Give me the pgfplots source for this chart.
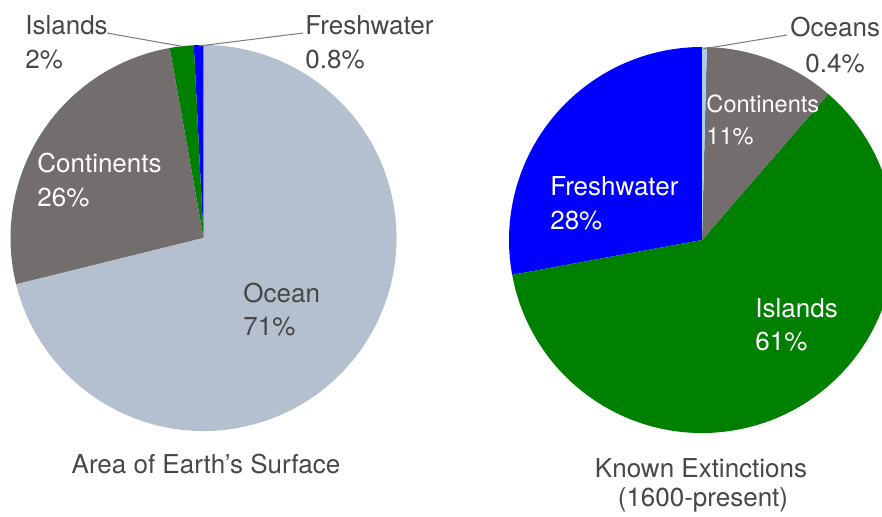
\documentclass[border=0pt]{standalone}
\usepackage{pgfplots}
\pgfplotsset{compat=1.18}
\usepackage{fontspec}
\setmainfont{TeX Gyre Heros}

\definecolor{oceangray}{HTML}{B4C0CF}
\definecolor{contgray}{HTML}{736E6D}
\definecolor{islegreen}{HTML}{008000}
\definecolor{freshblue}{HTML}{0000FF}
\definecolor{oceanlight}{HTML}{AACCEE}
\definecolor{txt}{HTML}{474747}
\definecolor{leader}{HTML}{7A7A7A}

% slices counterclockwise from #1 degrees, list of value/colour
\newcommand\pie[2]{%
  \gdef\total{0}%
  \foreach \v/\c in {#2}{\pgfmathsetmacro\t{\total+\v}\xdef\total{\t}}%
  \xdef\start{#1}%
  \foreach \v/\c in {#2}{%
    \pgfmathsetmacro\stop{\start+(\v/\total)*360}%
    \edef\temp{\noexpand\fill[\c] (axis cs:0,0) -- ++(\start:96.5pt)
      arc[start angle=\start, end angle=\stop, radius=96.5pt] -- cycle;}%
    \temp
    \xdef\start{\stop}}}

\pgfplotsset{piestyle/.style={
  hide axis, scale only axis, width=193pt, height=193pt,
  xmin=-1, xmax=1, ymin=-1, ymax=1, clip=false, anchor=center}}

\tikzset{lab/.style={anchor=base west, inner sep=0pt, font=\fontsize{13}{16}\selectfont},
  ttl/.style={anchor=base, inner sep=0pt, font=\fontsize{13}{16}\selectfont, text=txt}}

\begin{document}
\begin{tikzpicture}
\path[use as bounding box] (0,0) rectangle (441pt,258pt);

% Area of Earth's surface (percent)
\begin{axis}[piestyle, at={(101.75pt,139pt)}]
\pie{90}{0.8/freshblue, 2/islegreen, 26/contgray, 71/oceangray}
\draw[leader, line width=0.5pt] (axis cs:-0.50,1.062) -- (axis cs:-0.106,0.992);
\draw[leader, line width=0.5pt] (axis cs:-0.023,0.995) -- (axis cs:0.516,1.062);
\node[lab, text=txt] at (axis cs:-0.925,1.057) {Islands};
\node[lab, text=txt] at (axis cs:-0.925,0.876) {2\%};
\node[lab, text=txt] at (axis cs:0.526,1.057) {Freshwater};
\node[lab, text=txt] at (axis cs:0.526,0.876) {0.8\%};
\node[lab, text=white] at (axis cs:-0.863,0.337) {Continents};
\node[lab, text=white] at (axis cs:-0.863,0.161) {26\%};
\node[lab, text=txt] at (axis cs:0.205,-0.332) {Ocean};
\node[lab, text=txt] at (axis cs:0.205,-0.503) {71\%};
\node[ttl] at (axis cs:0.013,-1.218) {Area of Earth’s Surface};
\end{axis}

% Known extinctions since 1600 (percent)
\begin{axis}[piestyle, at={(351pt,138pt)}]
\pie{90}{28/freshblue, 61/islegreen, 11/contgray, 0.4/oceanlight}
\draw[leader, line width=0.5pt] (axis cs:0.005,0.990) -- (axis cs:0.440,1.062);
\node[lab, text=txt] at (axis cs:0.456,1.052) {Oceans};
\node[lab, text=txt] at (axis cs:0.534,0.870) {0.4\%};
\node[lab, text=white, font=\fontsize{11.8}{14}\selectfont] at (axis cs:0.021,0.663) {Continents};
\node[lab, text=white, font=\fontsize{11.8}{14}\selectfont] at (axis cs:0.021,0.497) {11\%};
\node[lab, text=white] at (axis cs:-0.788,0.233) {Freshwater};
\node[lab, text=white] at (axis cs:-0.788,0.052) {28\%};
\node[lab, text=white] at (axis cs:0.275,-0.399) {Islands};
\node[lab, text=white] at (axis cs:0.275,-0.570) {61\%};
\node[ttl] at (axis cs:-0.005,-1.228) {Known Extinctions};
\node[ttl] at (axis cs:0.005,-1.380) {(1600-present)};
\end{axis}
\end{tikzpicture}
\end{document}
